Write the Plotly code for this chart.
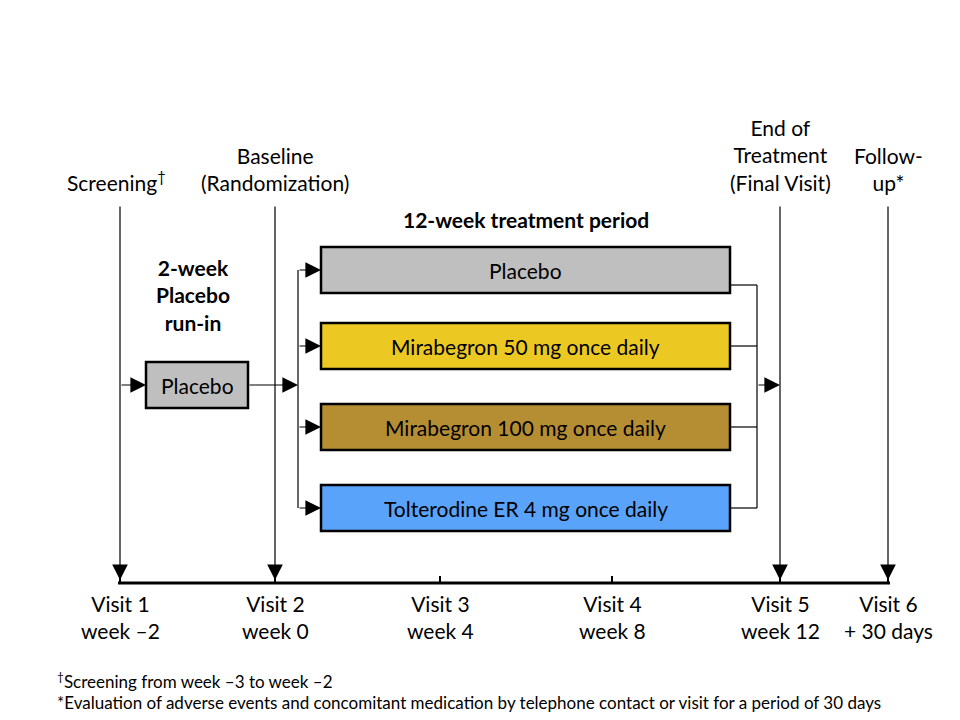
import plotly.graph_objects as go

# --- study schedule data ---
visit_names = ['Visit 1', 'Visit 2', 'Visit 3', 'Visit 4', 'Visit 5', 'Visit 6']
visit_times = ['week \u20132', 'week 0', 'week 4', 'week 8', 'week 12', '+ 30 days']
visit_pos = [120, 275, 440, 612, 780, 888]          # schematic positions on the timeline

milestones = ['Screening<sup>\u2020</sup>', 'Baseline<br>(Randomization)',
              'End of<br>Treatment<br>(Final Visit)', 'Follow-<br>up*']
milestone_visit = [0, 1, 4, 5]

arms = ['Placebo', 'Mirabegron 50 mg once daily',
        'Mirabegron 100 mg once daily', 'Tolterodine ER 4 mg once daily']
arm_colors = ['#BFBFBF', '#ECC922', '#B58D33', '#5AA3FA']

runin_label = '2-week<br>Placebo<br>run-in'
runin_arm = 'Placebo'
treat_label = '12-week treatment period'

footnotes = ['<sup>\u2020</sup>Screening from week \u20133 to week \u20132',
             '*Evaluation of adverse events and concomitant medication by telephone contact or visit for a period of 30 days']

# --- layout constants (pixel-like canvas) ---
FONT = 'Lato'
FS = 21
timeline_y = 583
line_top = 205
arm_y = [270, 346, 427, 508]
box_h = 46
box_x0, box_x1 = 321, 730
split_x, join_x = 298, 757
runin_x0, runin_x1, runin_y = 146, 248, 385

fig = go.Figure()
shapes = []
ann = []

def arrow(x0, y0, x1, y1):
    ann.append(dict(x=x1, y=y1, ax=x0, ay=y0, xref='x', yref='y', axref='x', ayref='y',
                    text='', showarrow=True, arrowhead=2, arrowsize=2.6, arrowwidth=1.2,
                    arrowcolor='black', standoff=0))

def line(x0, y0, x1, y1, w=1.2):
    shapes.append(dict(type='line', x0=x0, y0=y0, x1=x1, y1=y1, xref='x', yref='y',
                       line=dict(color='black', width=w)))

def label(x, y, text, **kw):
    font = dict(size=kw.pop('size', FS), family=FONT, color='black')
    ann.append(dict(x=x, y=y, text=text, showarrow=False, xref='x', yref='y', font=font, **kw))

# timeline
line(visit_pos[0] - 2, timeline_y, visit_pos[-1] + 2, timeline_y, w=3)
for i, xp in enumerate(visit_pos):
    line(xp, timeline_y, xp, timeline_y - 7, w=2)
    label(xp, timeline_y + 34, visit_names[i] + '<br>' + visit_times[i])

# milestone lines + labels
for lab, vi in zip(milestones, milestone_visit):
    xp = visit_pos[vi]
    arrow(xp, line_top, xp, timeline_y - 3)
    label(xp - 4 if vi == 0 else xp, line_top - 8, lab, yanchor='bottom')

# run-in
label(193, 295, '<b>' + runin_label + '</b>')
shapes.append(dict(type='rect', x0=runin_x0, x1=runin_x1, y0=runin_y - 23, y1=runin_y + 23,
                   xref='x', yref='y', fillcolor=arm_colors[0], line=dict(color='black', width=2.5)))
label((runin_x0 + runin_x1) / 2, runin_y, runin_arm)
arrow(visit_pos[0], runin_y, runin_x0, runin_y)
arrow(runin_x1, runin_y, split_x, runin_y)

# treatment period
label((box_x0 + box_x1) / 2, 219, '<b>' + treat_label + '</b>')
line(split_x, arm_y[0], split_x, arm_y[-1])
line(join_x, arm_y[0] + 15, join_x, arm_y[-1])
for i, (name, col) in enumerate(zip(arms, arm_colors)):
    yc = arm_y[i]
    shapes.append(dict(type='rect', x0=box_x0, x1=box_x1, y0=yc - box_h / 2, y1=yc + box_h / 2,
                       xref='x', yref='y', fillcolor=col, line=dict(color='black', width=2.5)))
    label((box_x0 + box_x1) / 2, yc, name)
    arrow(split_x, yc, box_x0, yc)
    yj = yc + 15 if i == 0 else yc
    line(box_x1, yj, join_x, yj)
arrow(join_x, runin_y, visit_pos[4], runin_y)

# footnotes
for k, fn in enumerate(footnotes):
    label(55, 680 + 22 * k, fn, xanchor='left', size=17)

# page body has an 8px margin, so the canvas is offset by 8 units
fig.update_layout(
    width=960, height=720, margin=dict(l=0, r=0, t=0, b=0),
    plot_bgcolor='white', paper_bgcolor='white', showlegend=False,
    xaxis=dict(range=[8, 968], visible=False, fixedrange=True),
    yaxis=dict(range=[728, 8], visible=False, fixedrange=True),
    shapes=shapes, annotations=ann,
)
fig.write_html('out.html')
